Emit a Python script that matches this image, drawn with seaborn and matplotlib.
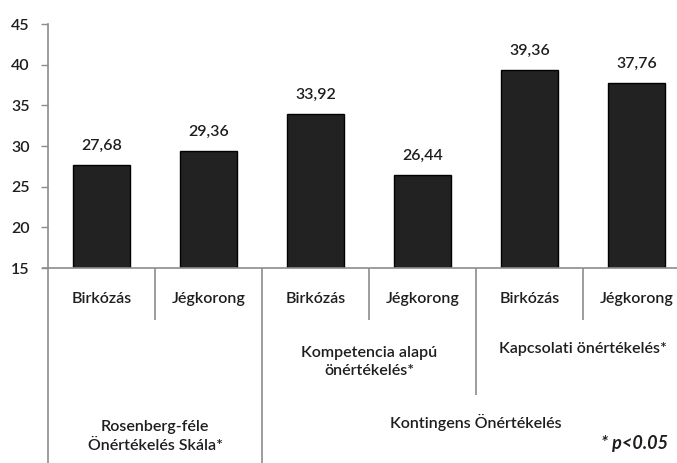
import matplotlib
matplotlib.use("Agg")
import matplotlib.pyplot as plt
import seaborn as sns
import pandas as pd

# Mean scores per sport and self-esteem measure
sports = ["Birkózás", "Jégkorong", "Birkózás", "Jégkorong", "Birkózás", "Jégkorong"]
scores = [27.68, 29.36, 33.92, 26.44, 39.36, 37.76]
value_labels = ["27,68", "29,36", "33,92", "26,44", "39,36", "37,76"]

# Second and third level of the category axis
sub_scales = ["Kompetencia alapú\nönértékelés*", "Kapcsolati önértékelés*"]
main_scales = ["Rosenberg-féle\nÖnértékelés Skála*", "Kontingens Önértékelés"]
y_ticks = [15, 20, 25, 30, 35, 40, 45]
note = "* p<0.05"

sns.set_theme(style="white")
plt.rcParams["font.family"] = ["Lato", "DejaVu Sans"]

text_color = "#1e1e1e"
line_color = "#8c8c8c"
fs = 11.5
fw = 600

df = pd.DataFrame({"pos": [str(i) for i in range(len(scores))],
                   "sport": sports, "score": scores})

fig = plt.figure(figsize=(6.77, 4.63), dpi=100)
# plot area runs past the right edge of the canvas
ax = fig.add_axes([48 / 677, 195 / 463, 642 / 677, 244 / 463])

sns.barplot(data=df, x="pos", y="score", color="#222222", edgecolor="#000000",
            linewidth=1.0, width=0.54, saturation=1, ax=ax)

ax.set_ylim(15, 45)
ax.set_xlim(-0.5, len(scores) - 0.5)
ax.set_yticks(y_ticks)
ax.set_yticklabels([str(t) for t in y_ticks], fontsize=fs, fontweight=fw,
                   color=text_color)
ax.set_xticks([])
ax.set_xlabel("")
ax.set_ylabel("")
ax.tick_params(axis="y", direction="out", length=5, width=1, color=line_color,
               pad=8, left=True)

for side in ["top", "right"]:
    ax.spines[side].set_visible(False)
for side in ["left", "bottom"]:
    ax.spines[side].set_color(line_color)
    ax.spines[side].set_linewidth(1.2)
ax.spines["bottom"].set_bounds(-0.55, len(scores) - 0.5)

# value labels above the bars
for i, (v, lab) in enumerate(zip(scores, value_labels)):
    ax.annotate(lab, xy=(i, v), xytext=(0, 9), textcoords="offset points",
                ha="center", va="bottom", fontsize=fs, fontweight=fw,
                color=text_color)

tr = ax.get_xaxis_transform()

# category separators below the axis
sep_depth = {-0.5: -0.80, 0.5: -0.213, 1.5: -0.80, 2.5: -0.213,
             3.5: -0.52, 4.5: -0.213, 5.5: -0.80}
for x, d in sep_depth.items():
    ax.plot([x, x], [0, d], transform=tr, color=line_color, lw=1.2,
            clip_on=False, solid_capstyle="butt")

# first level: sport names
for i, s in enumerate(sports):
    ax.text(i, -0.127, s, transform=tr, ha="center", va="center",
            fontsize=fs, fontweight=fw, color=text_color)

# second level: contingent self-esteem sub-scales
ax.text(2.5, -0.385, sub_scales[0], transform=tr, ha="center", va="center",
        fontsize=fs, fontweight=fw, color=text_color, linespacing=1.4)
ax.text(4.5, -0.332, sub_scales[1], transform=tr, ha="center", va="center",
        fontsize=fs, fontweight=fw, color=text_color)

# third level: main scales
ax.text(0.5, -0.69, main_scales[0], transform=tr, ha="center", va="center",
        fontsize=fs, fontweight=fw, color=text_color, linespacing=1.4)
ax.text(3.5, -0.635, main_scales[1], transform=tr, ha="center", va="center",
        fontsize=fs, fontweight=fw, color=text_color)

fig.text(668 / 677, 1 - 443 / 463, note, ha="right", va="center",
         fontsize=13, fontweight="bold", fontstyle="italic", color=text_color)

fig.savefig("out.png", dpi=100)
